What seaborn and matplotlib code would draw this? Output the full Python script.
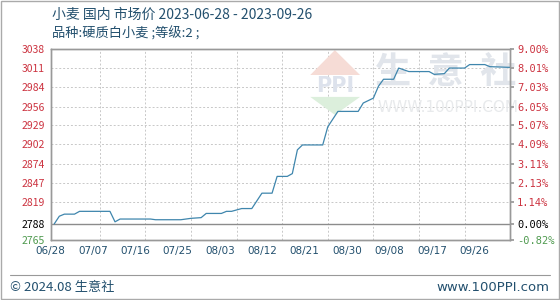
import matplotlib
matplotlib.use('Agg')
import matplotlib.pyplot as plt
import seaborn as sns
import pandas as pd
import numpy as np

# data (turning points of the price line)
dates = ['2023-06-28', '2023-06-29', '2023-06-30', '2023-07-02', '2023-07-03',
         '2023-07-09', '2023-07-10', '2023-07-11', '2023-07-17', '2023-07-18',
         '2023-07-23', '2023-07-25', '2023-07-27', '2023-07-28', '2023-07-31',
         '2023-08-01', '2023-08-02', '2023-08-04', '2023-08-06', '2023-08-08',
         '2023-08-10', '2023-08-11', '2023-08-13', '2023-08-14', '2023-08-15',
         '2023-08-16', '2023-08-20', '2023-08-21', '2023-08-23', '2023-08-27',
         '2023-08-28', '2023-08-30', '2023-08-31', '2023-09-01', '2023-09-03',
         '2023-09-04', '2023-09-06', '2023-09-10', '2023-09-11', '2023-09-13',
         '2023-09-14', '2023-09-17', '2023-09-18', '2023-09-21', '2023-09-22',
         '2023-09-26']
prices = [2788, 2799, 2802, 2802, 2806,
          2806, 2791, 2795, 2795, 2794,
          2794, 2796, 2797, 2803, 2803,
          2806, 2806, 2810, 2810, 2832,
          2832, 2856, 2856, 2860, 2894,
          2901, 2901, 2927, 2949, 2949,
          2961, 2968, 2985, 2995, 2995,
          3011, 3006, 3006, 3002, 3003,
          3011, 3011, 3016, 3016, 3013,
          3012]

left_ticks = [3038, 3011, 2984, 2956, 2929, 2902, 2874, 2847, 2819, 2788, 2765]
right_labels = ['9.00%', '8.01%', '7.03%', '6.05%', '5.07%', '4.09%', '3.11%',
                '2.13%', '1.14%', '0.00%', '-0.82%']
x_labels = ['06/28', '07/07', '07/16', '07/25', '08/03', '08/12', '08/21',
            '08/30', '09/08', '09/17', '09/26']

start = pd.Timestamp('2023-06-28')
df = pd.DataFrame({'date': pd.to_datetime(dates), 'price': prices})
df['day'] = (df['date'] - start).dt.days

sns.set_theme(style='white')
plt.rcParams['font.family'] = ['Noto Sans CJK SC', 'DejaVu Sans']

red = '#cc3340'
green = '#4f9a4f'
blue_txt = '#23506e'
tick_colors = [red] * 9 + ['black', green]

fig = plt.figure(figsize=(5.6, 3.0), dpi=100)
ax = fig.add_axes([0.0905, 0.2, 0.8205, 0.636])

# watermark behind the line
tf = fig.transFigure
ax.add_patch(plt.Polygon([[0.554, 0.75], [0.598, 0.833], [0.643, 0.75]],
                         closed=True, transform=tf, facecolor='#f6dcd6',
                         edgecolor='none', zorder=0.5))
ax.add_patch(plt.Polygon([[0.554, 0.677], [0.598, 0.617], [0.643, 0.677]],
                         closed=True, transform=tf, facecolor='#dcefdc',
                         edgecolor='none', zorder=0.5))
ax.text(0.598, 0.713, 'PPI', transform=tf, fontsize=15, color='#dde2ec',
        ha='center', va='center', zorder=0.5, fontweight='bold',
        family='DejaVu Sans')
ax.text(0.795, 0.76, '生  意  社', transform=tf, fontsize=26, color='#e1e5eb',
        ha='center', va='center', zorder=0.5, fontweight='bold')
ax.text(0.80, 0.643, 'WWW.100PPI.COM', transform=tf, fontsize=11, color='#e8eaec',
        ha='center', va='center', zorder=0.5, family='DejaVu Sans')

sns.lineplot(data=df, x='day', y='price', ax=ax, color='#3f86ad', linewidth=0.9,
             zorder=3)

ax.set_xlim(0, 90)
ax.set_ylim(2765, 3038)

# grid every 9 days and at the price ticks
for d in range(9, 90, 9):
    ax.axvline(d, color='#c8c8c8', linestyle=(0, (2, 2)), linewidth=0.7, zorder=0)
for v in left_ticks[1:9]:
    ax.axhline(v, color='#c8c8c8', linestyle=(0, (2, 2)), linewidth=0.7, zorder=0)
ax.axhline(2788, color='#8c8c8c', linewidth=1.0, zorder=1)

ax.set_yticks(left_ticks)
ax.set_yticklabels([str(v) for v in left_ticks], fontsize=7.5)
for lab, c in zip(ax.get_yticklabels(), tick_colors):
    lab.set_color(c)

ax.set_xticks(np.linspace(-0.7, 82.9, 11))
ax.set_xticklabels(x_labels, fontsize=7.5, color=blue_txt, family='DejaVu Sans')
ax.tick_params(axis='both', length=0, pad=4)
ax.set_xlabel('')
ax.set_ylabel('')

ax2 = ax.twinx()
ax2.set_ylim(2765, 3038)
ax2.set_yticks(left_ticks)
ax2.set_yticklabels(right_labels, fontsize=7.5, family='DejaVu Sans Mono')
for lab, c in zip(ax2.get_yticklabels(), tick_colors):
    lab.set_color(c)
ax2.tick_params(axis='y', length=3, pad=2, color='#999999')

for a in (ax, ax2):
    for s in a.spines.values():
        s.set_color('#999999')
        s.set_linewidth(1.0)

# header
fig.text(0.092, 0.952, '小麦 国内 市场价 2023-06-28 - 2023-09-26', fontsize=10,
         color=blue_txt, va='center')
fig.text(0.092, 0.888, '品种:硬质白小麦 ;等级:2 ;', fontsize=9.5, color=blue_txt,
         va='center')

# footer
fig.add_artist(plt.Line2D([0.018, 0.982], [0.083, 0.083], color='#999999',
                          linewidth=0.8))
fig.text(0.018, 0.043, '© 2024.08 生意社', fontsize=9.5, color=blue_txt, va='center')
fig.text(0.982, 0.043, 'www.100PPI.com', fontsize=9.5, color=blue_txt, va='center',
         ha='right', family='DejaVu Sans')
fig.add_artist(plt.Rectangle((0.001, 0.002), 0.997, 0.995, fill=False,
                             edgecolor='#aaaaaa', linewidth=1.0))

fig.savefig('out.png', dpi=100)
